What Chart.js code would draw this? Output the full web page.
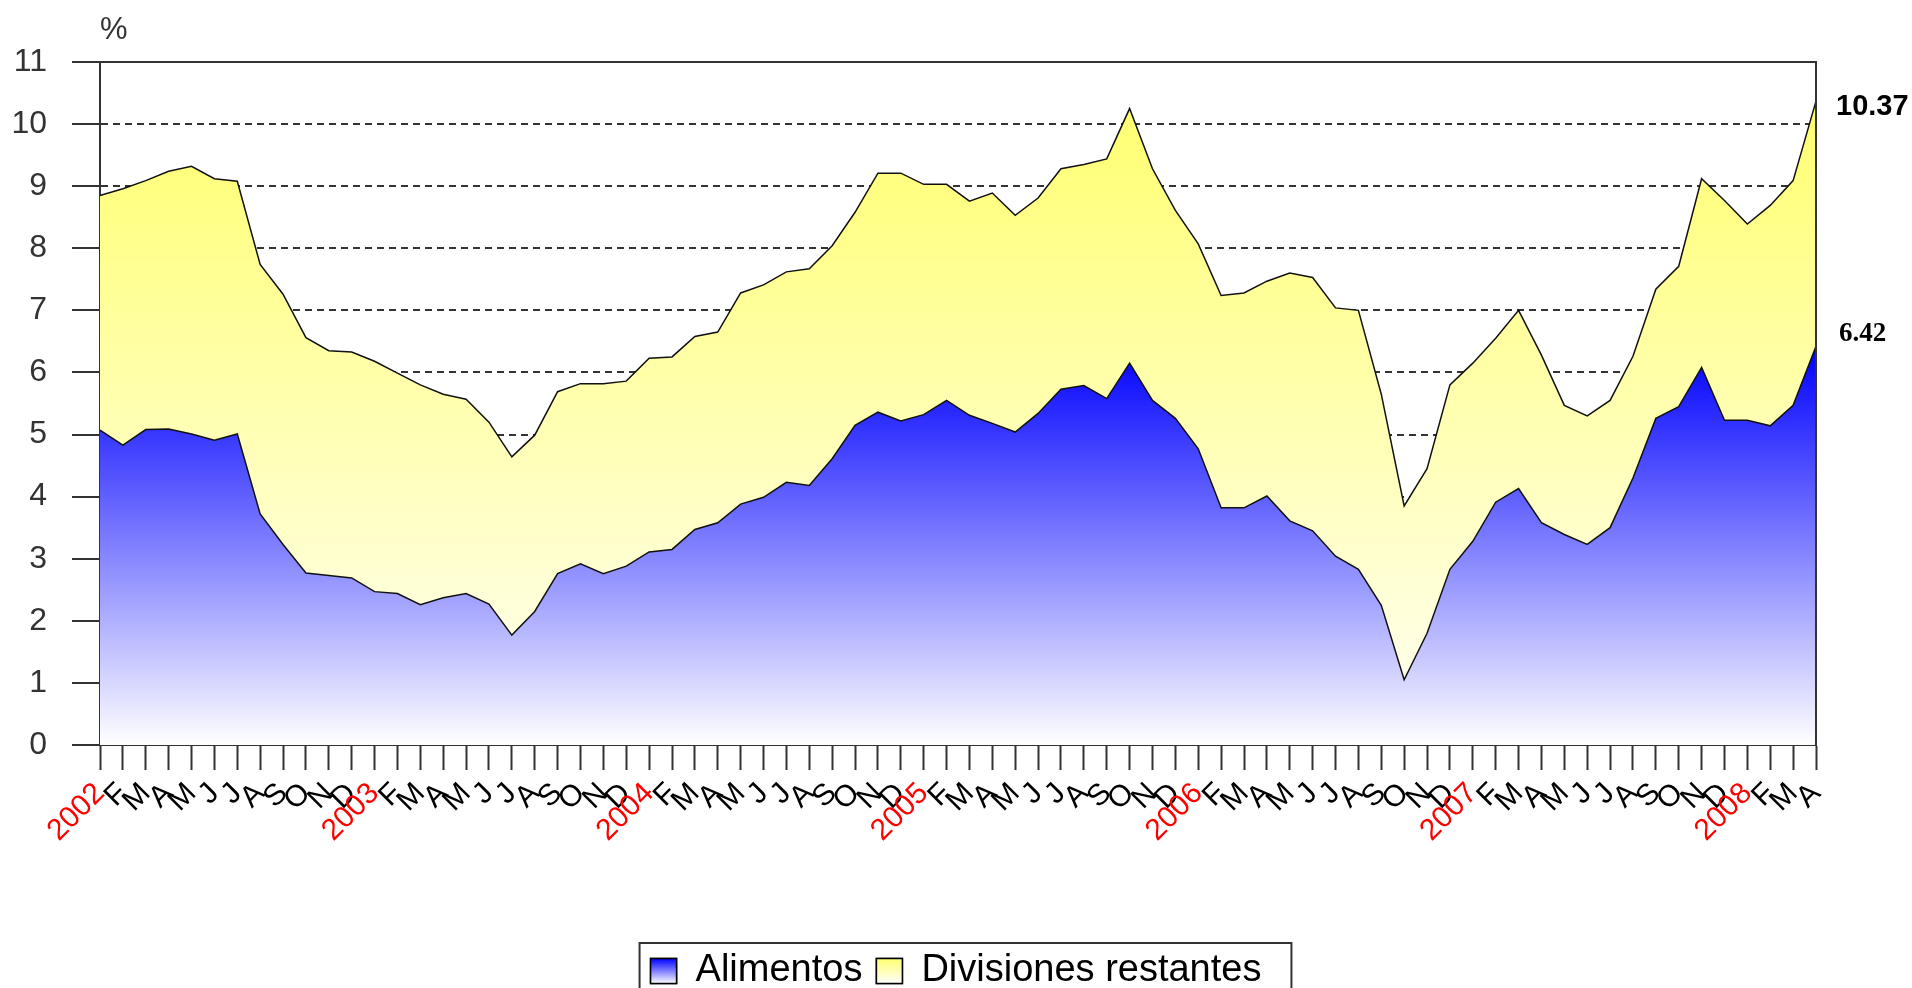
<!DOCTYPE html>
<html>
<head>
<meta charset="utf-8">
<title>Alimentos y divisiones restantes</title>
<script src="https://cdn.jsdelivr.net/npm/chart.js@4.4.1/dist/chart.umd.min.js"></script>
<style>
    html, body { margin: 0; padding: 0; background: #fff; }
    #wrap { width: 1912px; height: 988px; }
</style>
</head>
<body>
<div id="wrap"><canvas id="inflacionChart"></canvas></div>
<script>
// Monthly values, Jan 2002 - Apr 2008
const years = ["2002", "2003", "2004", "2005", "2006", "2007", "2008"];
const monthLetters = ["", "F", "M", "A", "M", "J", "J", "A", "S", "O", "N", "D"];

const alimentos = [
    5.07, 4.83, 5.08, 5.09, 5.01, 4.91, 5.01, 3.72, 3.23, 2.77, 2.73, 2.69,
    2.47, 2.44, 2.26, 2.37, 2.44, 2.27, 1.77, 2.15, 2.76, 2.92, 2.76, 2.88,
    3.11, 3.15, 3.47, 3.58, 3.88, 3.99, 4.23, 4.18, 4.61, 5.15, 5.36, 5.22,
    5.32, 5.55, 5.31, 5.18, 5.04, 5.34, 5.73, 5.79, 5.58, 6.15, 5.55, 5.26,
    4.77, 3.82, 3.82, 4.01, 3.61, 3.45, 3.04, 2.83, 2.25, 1.05, 1.80, 2.83,
    3.28, 3.91, 4.13, 3.58, 3.39, 3.23, 3.50, 4.30, 5.26, 5.45, 6.08, 5.23,
    5.23, 5.14, 5.47, 6.42
];

// top of the stack (alimentos + divisiones restantes)
const divisionesTotal = [
    8.85, 8.96, 9.09, 9.24, 9.32, 9.12, 9.08, 7.74, 7.26, 6.56, 6.35, 6.33,
    6.18, 5.99, 5.80, 5.65, 5.57, 5.20, 4.64, 4.99, 5.69, 5.82, 5.82, 5.86,
    6.23, 6.25, 6.58, 6.65, 7.28, 7.41, 7.62, 7.67, 8.04, 8.58, 9.21, 9.21,
    9.03, 9.03, 8.76, 8.89, 8.53, 8.81, 9.28, 9.35, 9.44, 10.25, 9.28, 8.61,
    8.07, 7.24, 7.28, 7.47, 7.60, 7.53, 7.04, 7.00, 5.65, 3.85, 4.45, 5.80,
    6.15, 6.55, 7.00, 6.28, 5.47, 5.30, 5.55, 6.26, 7.34, 7.71, 9.12, 8.77,
    8.39, 8.69, 9.09, 10.37
];

const labels = [];
for (let i = 0; i < alimentos.length; i++) {
    const m = i % 12;
    labels.push(m === 0 ? years[i / 12] : monthLetters[m]);
}

const SANS = "'Liberation Sans', Arial, sans-serif";

// vertical gradient fill inside the plot, from a value down to 0
function areaGradient(topValue, topColor, bottomColor) {
    return function (context) {
        const chart = context.chart;
        if (!chart.chartArea) return null;
        const y = chart.scales.y;
        const g = chart.ctx.createLinearGradient(0, y.getPixelForValue(topValue), 0, y.getPixelForValue(0));
        g.addColorStop(0, topColor);
        g.addColorStop(1, bottomColor);
        return g;
    };
}

const extrasPlugin = {
    id: "extras",
    afterDraw(chart) {
        const ctx = chart.ctx;
        const area = chart.chartArea;
        ctx.save();

        // frame: top and right side of the plot
        ctx.strokeStyle = "#333";
        ctx.lineWidth = 2;
        ctx.beginPath();
        ctx.moveTo(area.left, area.top);
        ctx.lineTo(area.right, area.top);
        ctx.lineTo(area.right, area.bottom);
        ctx.stroke();

        // unit label
        ctx.fillStyle = "#333";
        ctx.font = "31px " + SANS;
        ctx.textAlign = "left";
        ctx.textBaseline = "middle";
        ctx.fillText("%", area.left, 30);

        // last values at the right edge
        const metaTotal = chart.getDatasetMeta(1);
        const metaAli = chart.getDatasetMeta(0);
        const pTotal = metaTotal.data[metaTotal.data.length - 1];
        const pAli = metaAli.data[metaAli.data.length - 1];
        ctx.fillStyle = "#000";
        ctx.font = "bold 29px " + SANS;
        ctx.fillText(divisionesTotal[divisionesTotal.length - 1].toFixed(2), pTotal.x + 20, pTotal.y + 6);
        ctx.font = "bold 27px 'Liberation Serif', 'Times New Roman', serif";
        ctx.fillText(alimentos[alimentos.length - 1].toFixed(2), pAli.x + 23, pAli.y - 12);

        // legend: gradient boxes and outer border
        const lg = chart.legend;
        const hb = lg.legendHitBoxes;
        const bw = lg.options.labels.boxWidth;
        const bh = lg.options.labels.boxHeight;
        const fs = lg.options.labels.font.size;
        const tops = ["#0000ff", "#ffff70"];
        hb.forEach((h, i) => {
            const by = h.top + Math.max((fs - bh) / 2, 0);
            const g = ctx.createLinearGradient(0, by, 0, by + bh);
            g.addColorStop(0, tops[i]);
            g.addColorStop(1, "#ffffff");
            ctx.fillStyle = g;
            ctx.fillRect(h.left, by, bw, bh);
            ctx.strokeStyle = "#000";
            ctx.lineWidth = 1.5;
            ctx.strokeRect(h.left, by, bw, bh);
        });
        if (hb.length) {
            const first = hb[0];
            const last = hb[hb.length - 1];
            ctx.strokeStyle = "#333";
            ctx.lineWidth = 2;
            ctx.strokeRect(first.left - 11, first.top - 9, last.left + last.width + 30 - (first.left - 11), 100);
        }
        ctx.restore();
    },
};

const ctx = document.getElementById("inflacionChart").getContext("2d");
const chart = new Chart(ctx, {
    type: "line",
    data: {
        labels: labels,
        datasets: [
            {
                label: "Alimentos",
                data: alimentos,
                borderColor: "#111",
                borderWidth: 1.5,
                backgroundColor: areaGradient(6.42, "rgb(0,0,255)", "rgb(255,255,255)"),
                fill: "origin",
                pointRadius: 0,
                tension: 0,
            },
            {
                label: "Divisiones restantes",
                data: divisionesTotal,
                borderColor: "#111",
                borderWidth: 1.5,
                backgroundColor: areaGradient(10.4, "rgb(255,255,112)", "rgb(255,255,246)"),
                fill: "-1",
                pointRadius: 0,
                tension: 0,
            },
        ],
    },
    options: {
        responsive: true,
        maintainAspectRatio: false,
        animation: false,
        layout: {
            padding: { left: 0, top: 62, right: 0, bottom: -12 },
        },
        scales: {
            x: {
                afterFit: (scale) => { scale.height = 193; },
                grid: {
                    drawOnChartArea: false,
                    drawTicks: true,
                    tickLength: 25,
                    tickColor: "#333",
                    tickWidth: 2,
                },
                border: { color: "#333", width: 2 },
                ticks: {
                    autoSkip: false,
                    minRotation: 45,
                    maxRotation: 45,
                    padding: 6,
                    font: { family: SANS, size: 30 },
                    color: (c) => (c.index % 12 === 0 ? "#ff0000" : "#000"),
                },
            },
            y: {
                min: 0,
                max: 11,
                afterFit: (scale) => { scale.width = 100; },
                grid: {
                    color: (c) => (c.tick && (c.tick.value === 0 || c.tick.value === 11) ? "transparent" : "#333"),
                    lineWidth: 2,
                    tickLength: 28,
                    tickColor: "#333",
                    tickWidth: 2,
                },
                border: { color: "#333", width: 2, dash: [7, 5] },
                ticks: {
                    stepSize: 1,
                    padding: 25,
                    font: { family: SANS, size: 32 },
                    color: "#333",
                },
            },
            // empty right-hand axis: keeps room for the end labels
            yRight: {
                position: "right",
                min: 0,
                max: 11,
                afterFit: (scale) => { scale.width = 96; },
                grid: { display: false },
                border: { display: false },
                ticks: { display: false },
            },
        },
        plugins: {
            legend: {
                position: "bottom",
                labels: {
                    boxWidth: 26,
                    boxHeight: 25,
                    padding: 14,
                    color: "#000",
                    font: { family: SANS, size: 38 },
                },
            },
            tooltip: { enabled: false },
        },
    },
    plugins: [extrasPlugin],
});
</script>
</body>
</html>
